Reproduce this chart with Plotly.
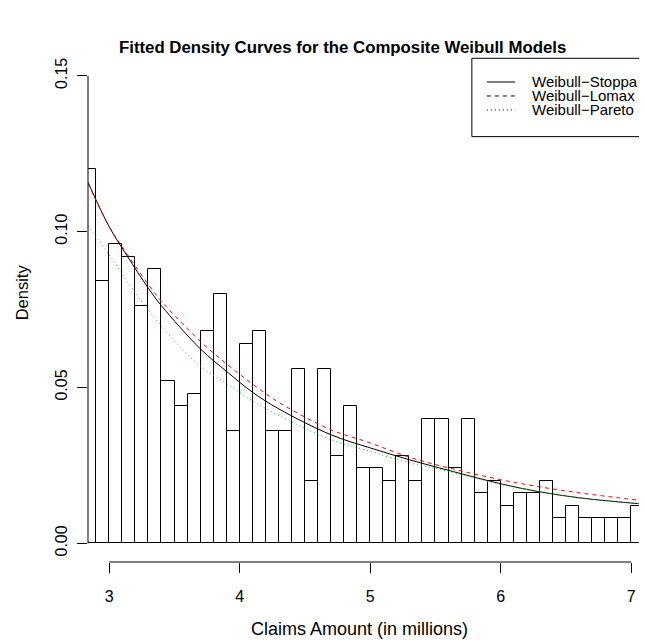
import plotly.graph_objects as go

# ---- data ----
bin_left = [2.8, 2.9, 3.0, 3.1, 3.2, 3.3, 3.4, 3.5, 3.6, 3.7, 3.8, 3.9, 4.0, 4.1, 4.2,
            4.3, 4.4, 4.5, 4.6, 4.7, 4.8, 4.9, 5.0, 5.1, 5.2, 5.3, 5.4, 5.5, 5.6, 5.7,
            5.8, 5.9, 6.0, 6.1, 6.2, 6.3, 6.4, 6.5, 6.6, 6.7, 6.8, 6.9, 7.0, 7.1]
density = [0.120, 0.084, 0.096, 0.092, 0.076, 0.088, 0.052, 0.044, 0.048, 0.068, 0.080,
           0.036, 0.064, 0.068, 0.036, 0.036, 0.056, 0.020, 0.056, 0.028, 0.044, 0.024,
           0.024, 0.020, 0.028, 0.020, 0.040, 0.040, 0.024, 0.040, 0.016, 0.020, 0.012,
           0.016, 0.016, 0.020, 0.008, 0.012, 0.008, 0.008, 0.008, 0.008, 0.012, 0.012]

curve_x = [2.837, 3.0, 3.14, 3.3, 3.4, 3.7, 3.9, 4.1, 4.3, 4.7, 5.0, 5.3, 5.6, 6.0, 6.3, 6.6, 6.9, 7.12]
stoppa = [0.1158, 0.1015, 0.0920, 0.0818, 0.0762, 0.0623, 0.0551, 0.0484, 0.0431, 0.0348, 0.0306,
          0.0268, 0.0234, 0.0191, 0.0165, 0.0146, 0.0133, 0.0125]
lomax = [0.1155, 0.1015, 0.0926, 0.0830, 0.0776, 0.0647, 0.0575, 0.0510, 0.0452, 0.0364, 0.0322,
         0.0276, 0.0242, 0.0204, 0.0181, 0.0162, 0.0146, 0.0135]
pareto = [0.1018, 0.0925, 0.0838, 0.0748, 0.0696, 0.0567, 0.0512, 0.0456, 0.0410, 0.0332, 0.0295,
          0.0258, 0.0231, 0.0189, 0.0165, 0.0146, 0.0133, 0.0125]

x_ticks = [3, 4, 5, 6, 7]
y_ticks = [0.00, 0.05, 0.10, 0.15]
y_tick_labels = ["0.00", "0.05", "0.10", "0.15"]
legend_labels = ["Weibull\u2212Stoppa", "Weibull\u2212Lomax", "Weibull\u2212Pareto"]

FONT = "Liberation Sans, Arial, Helvetica, sans-serif"

fig = go.Figure()
fig.add_trace(go.Bar(x=bin_left, y=density, width=0.1, offset=0,
                     marker=dict(color="white", line=dict(color="black", width=1)),
                     showlegend=False))
fig.add_trace(go.Scatter(x=curve_x, y=stoppa, mode="lines", line=dict(color="black", width=1, shape="spline"),
                         showlegend=False))
fig.add_trace(go.Scatter(x=curve_x, y=lomax, mode="lines",
                         line=dict(color="#FF0000", width=1, dash="4px,4px", shape="spline"), showlegend=False))
fig.add_trace(go.Scatter(x=curve_x, y=pareto, mode="lines",
                         line=dict(color="#00CD00", width=1, dash="1px,3px", shape="spline"), showlegend=False))

# axis lines (R style, spanning only the tick range)
fig.add_shape(type="line", xref="x", yref="paper", x0=x_ticks[0], x1=x_ticks[-1], y0=0, y1=0,
              line=dict(color="black", width=1))
fig.add_shape(type="line", xref="paper", yref="y", x0=0, x1=0, y0=y_ticks[0], y1=y_ticks[-1],
              line=dict(color="black", width=1))

# helpers: window pixel -> paper coords (plot area spans x 87.5..647, y 57..562.4 in the window)
W, H = 559.5, 505.4
def px(X):
    return (X - 87.5) / W
def py(Y):
    return (562.4 - Y) / H

# legend box (top-right, cropped by the right edge as in the reference)
fig.add_shape(type="rect", xref="paper", yref="paper", x0=px(471.7), x1=px(700), y0=py(136.7), y1=py(58.3),
              line=dict(color="black", width=1), fillcolor="white", layer="above")
dashes = ["solid", "4px,4px", "1px,3px"]
rows = [82, 96, 110]
for lab, d, r in zip(legend_labels, dashes, rows):
    fig.add_shape(type="line", xref="paper", yref="paper", x0=px(486.7), x1=px(515), y0=py(r), y1=py(r),
                  line=dict(color="black", width=1, dash=d))
    fig.add_annotation(xref="paper", yref="paper", x=px(530), y=py(r), text=lab, showarrow=False,
                       xanchor="left", yanchor="middle", font=dict(family=FONT, size=15, color="black"))

# titles
fig.add_annotation(xref="paper", yref="paper", x=px(342.5), y=py(47),
                   text="<b>Fitted Density Curves for the Composite Weibull Models</b>",
                   showarrow=False, xanchor="center", yanchor="middle",
                   font=dict(family=FONT, size=16.8, color="black"))
fig.add_annotation(xref="paper", yref="paper", x=px(359), y=py(629), text="Claims Amount (in millions)",
                   showarrow=False, xanchor="center", yanchor="middle",
                   font=dict(family=FONT, size=18, color="black"))
fig.add_annotation(xref="paper", yref="paper", x=px(21), y=py(293), text="Density", textangle=-90,
                   showarrow=False, xanchor="center", yanchor="middle",
                   font=dict(family=FONT, size=16.5, color="black"))

# the page body has an 8px margin, so the figure is shifted by 8px; compensate in size/margins
fig.update_layout(
    width=639, height=636,
    margin=dict(l=79.5, r=0, t=49, b=81.6, autoexpand=False),
    paper_bgcolor="white", plot_bgcolor="white",
    bargap=0,
    font=dict(family=FONT, size=16, color="black"),
    xaxis=dict(range=[2.837, 7.121], tickmode="array", tickvals=x_ticks, ticktext=[str(v) for v in x_ticks],
               ticks="outside", ticklen=10, tickcolor="black", tickwidth=1, showgrid=False, zeroline=False,
               showline=False, ticklabelstandoff=10),
    yaxis=dict(range=[-0.006, 0.156], tickmode="array", tickvals=y_ticks, ticktext=y_tick_labels,
               ticks="outside", ticklen=10, tickcolor="black", tickwidth=1, showgrid=False, zeroline=False,
               showline=False, tickangle=-90, ticklabelstandoff=4),
)

fig.write_html("out.html")
